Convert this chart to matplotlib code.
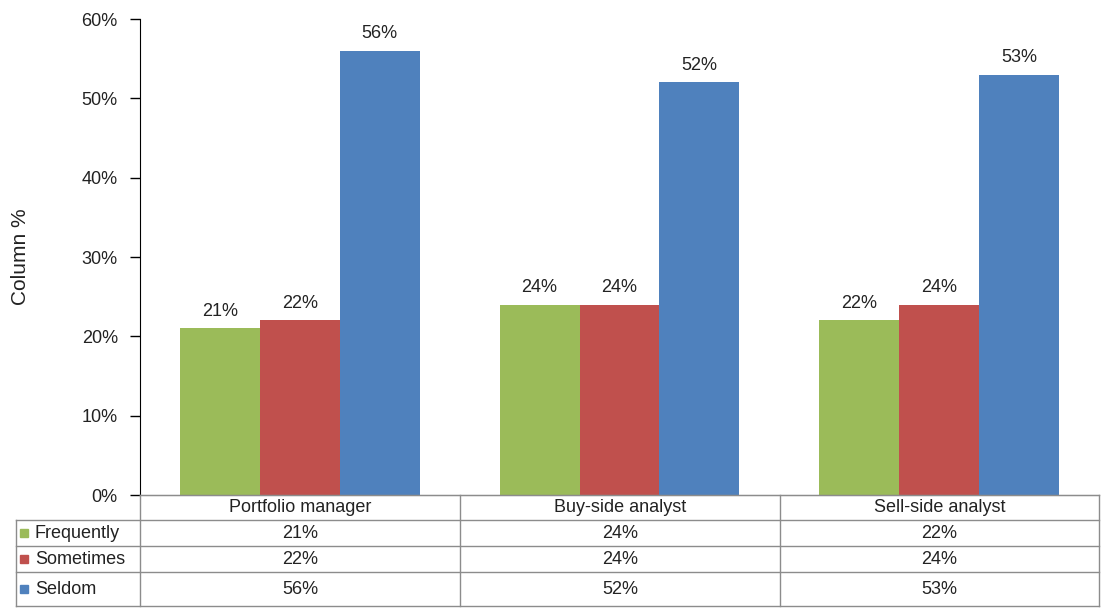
import numpy as np
import matplotlib.pyplot as plt
from matplotlib.patches import Rectangle

categories = ['Portfolio manager', 'Buy-side analyst', 'Sell-side analyst']
series = ['Frequently', 'Sometimes', 'Seldom']
frequently = [21, 24, 22]
sometimes = [22, 24, 24]
seldom = [56, 52, 53]
colors = ['#9BBB59', '#C0504D', '#4F81BD']

plt.rcParams['font.family'] = ['Liberation Sans', 'DejaVu Sans']
plt.rcParams['font.size'] = 13

W, H = 1101, 608
fig = plt.figure(figsize=(W / 100, H / 100), dpi=100)
# axes box in pixels
x0, x1, ytop, ybot = 140, 1099, 19, 495
ax = fig.add_axes([x0 / W, (H - ybot) / H, (x1 - x0) / W, (ybot - ytop) / H])

x = np.arange(len(categories))
bw = 0.25
values = [frequently, sometimes, seldom]
for i, (vals, col) in enumerate(zip(values, colors)):
    pos = x + (i - 1) * bw
    ax.bar(pos, vals, width=bw, color=col, edgecolor='none')
    for p, v in zip(pos, vals):
        ax.text(p, v + 1.1, '%d%%' % v, ha='center', va='bottom', color='#222222')

ax.set_xlim(-0.5, 2.5)
ax.set_ylim(0, 60)
ax.set_yticks(range(0, 61, 10))
ax.set_yticklabels(['%d%%' % t for t in range(0, 61, 10)], color='#222222')
ax.tick_params(axis='y', direction='out', length=7, width=1, pad=9)
ax.set_xticks([])
for s in ['top', 'right']:
    ax.spines[s].set_visible(False)
ax.spines['bottom'].set_color('#8c8c8c')
ax.spines['left'].set_color('black')
ax.spines['left'].set_zorder(5)
fig.text(21 / W, 1 - 257 / H, 'Column %', rotation=90, ha='center', va='center',
         fontsize=15, color='#222222')

# data table drawn below the axes, in figure pixel coordinates
def fx(px):
    return px / W

def fy(py):
    return 1 - py / H

grey = '#8c8c8c'
rows = [495, 520, 546, 572, 606]
cols = [x0, 460, 780, x1]
lab_left = 16
for i, r in enumerate(rows):
    left = x0 if i == 0 else lab_left
    fig.add_artist(plt.Line2D([fx(left), fx(x1)], [fy(r), fy(r)], color=grey, lw=1))
for c in cols:
    fig.add_artist(plt.Line2D([fx(c), fx(c)], [fy(rows[0]), fy(rows[-1])], color=grey, lw=1))
fig.add_artist(plt.Line2D([fx(lab_left), fx(lab_left)], [fy(rows[1]), fy(rows[-1])], color=grey, lw=1))

for j, cat in enumerate(categories):
    cx = (cols[j] + cols[j + 1]) / 2
    fig.text(fx(cx), fy((rows[0] + rows[1]) / 2), cat, ha='center', va='center', color='#222222')
for i, (name, vals, col) in enumerate(zip(series, values, colors)):
    cy = (rows[i + 1] + rows[i + 2]) / 2
    fig.add_artist(Rectangle((fx(20), fy(cy + 4)), 8 / W, 8 / H, color=col, transform=fig.transFigure))
    fig.text(fx(35), fy(cy), name, ha='left', va='center', color='#222222')
    for j, v in enumerate(vals):
        cx = (cols[j] + cols[j + 1]) / 2
        fig.text(fx(cx), fy(cy), '%d%%' % v, ha='center', va='center', color='#222222')

fig.savefig('out.png', dpi=100)
